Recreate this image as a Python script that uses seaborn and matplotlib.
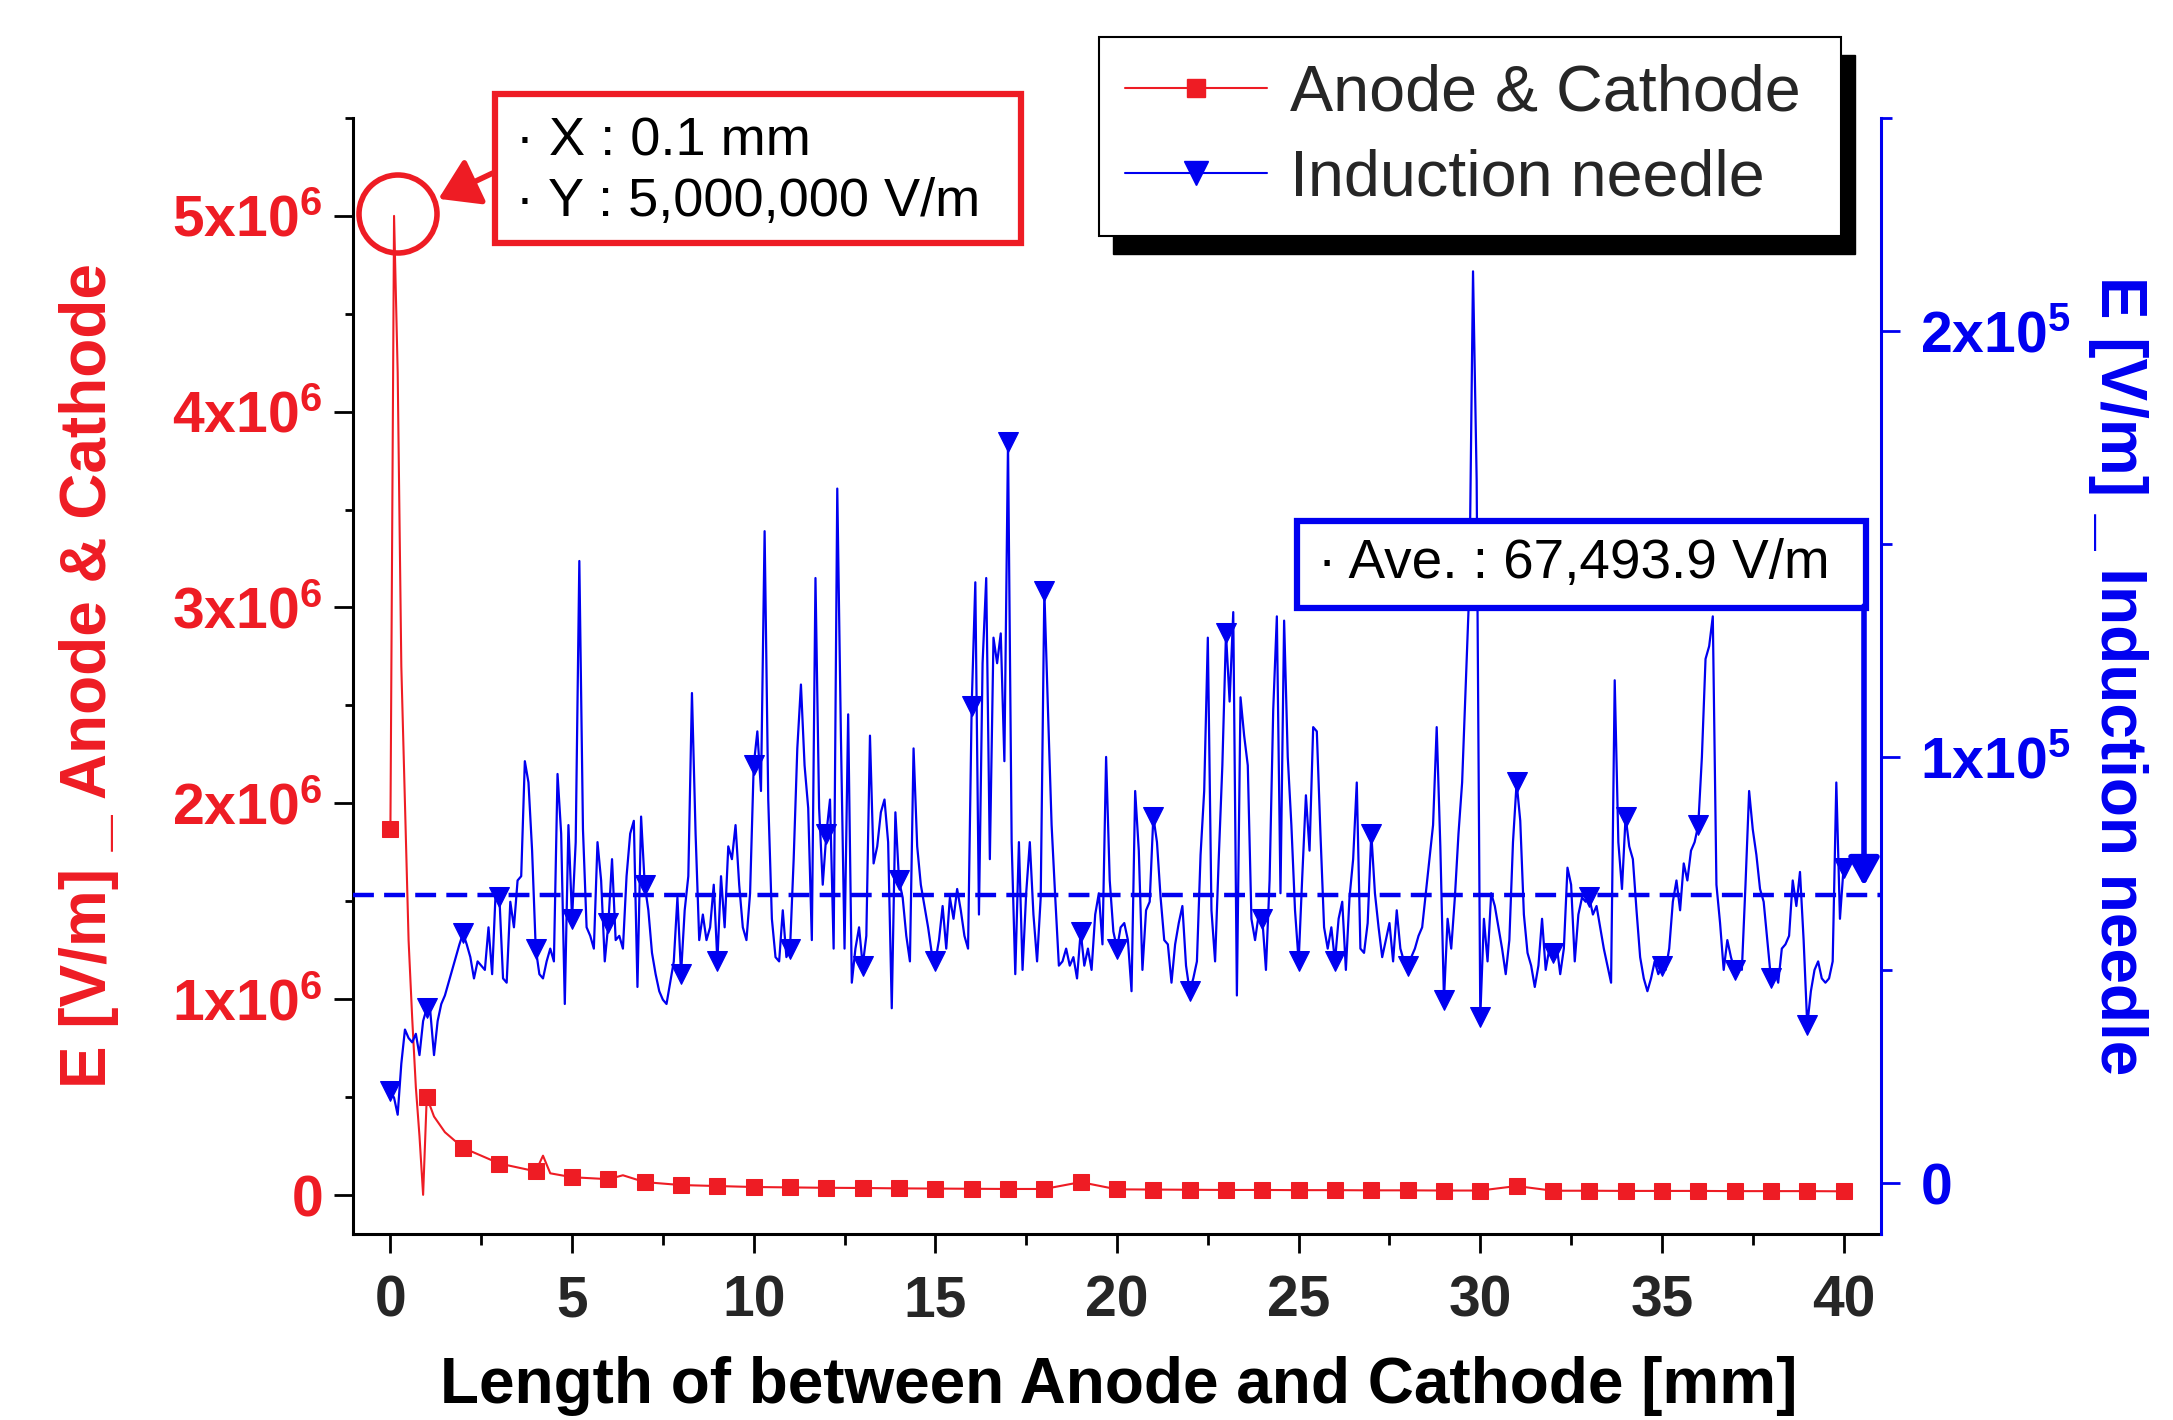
import numpy as np
import pandas as pd
import matplotlib
matplotlib.use("Agg")
import matplotlib.pyplot as plt
import seaborn as sns
from matplotlib.patches import Rectangle, Ellipse, FancyArrowPatch
from matplotlib.ticker import MultipleLocator, FixedLocator, FixedFormatter
from matplotlib.lines import Line2D

# ---- data ----
# Anode & Cathode field [V/m] (left axis)
red_x = [0.0, 0.1, 0.2, 0.3, 0.4, 0.5, 0.6, 0.7, 0.8, 0.9, 1.0, 1.2, 1.5,
         2, 3, 4, 4.2, 4.4, 5, 6, 6.4, 7, 8, 9, 10, 11, 12, 13, 14, 15, 16,
         17, 18, 19, 20, 21, 22, 23, 24, 25, 26, 27, 28, 29, 30, 31, 32, 33,
         34, 35, 36, 37, 38, 39, 40]
red_y = [1.87e6, 5.0e6, 4.2e6, 2.7e6, 2.0e6, 1.3e6, 0.9e6, 0.55e6, 0.3e6, 0.0, 0.5e6, 0.40e6, 0.32e6,
         0.24e6, 0.16e6, 0.12e6, 0.20e6, 0.11e6, 0.09e6, 0.08e6, 0.10e6, 0.065e6, 0.05e6, 0.045e6,
         0.04e6, 0.038e6, 0.036e6, 0.035e6, 0.033e6, 0.032e6, 0.031e6, 0.030e6, 0.030e6, 0.065e6,
         0.028e6, 0.027e6, 0.026e6, 0.025e6, 0.025e6, 0.024e6, 0.024e6, 0.023e6, 0.023e6, 0.022e6,
         0.022e6, 0.045e6, 0.021e6, 0.021e6, 0.020e6, 0.020e6, 0.020e6, 0.019e6, 0.019e6, 0.019e6,
         0.018e6]

# Induction needle field [x1e5 V/m] (right axis), sampled every 0.1 mm, one row per mm
blue_rows = [
    [0.215, 0.20, 0.16, 0.28, 0.36, 0.34, 0.33, 0.35, 0.30, 0.38],
    [0.41, 0.40, 0.30, 0.38, 0.42, 0.44, 0.47, 0.50, 0.53, 0.56],
    [0.586, 0.56, 0.53, 0.48, 0.52, 0.51, 0.50, 0.60, 0.49, 0.69],
    [0.67, 0.48, 0.47, 0.66, 0.60, 0.71, 0.72, 0.99, 0.94, 0.78],
    [0.55, 0.49, 0.48, 0.52, 0.55, 0.52, 0.96, 0.82, 0.42, 0.84],
    [0.62, 0.80, 1.46, 0.83, 0.60, 0.58, 0.55, 0.80, 0.71, 0.52],
    [0.61, 0.76, 0.57, 0.58, 0.55, 0.72, 0.82, 0.85, 0.46, 0.86],
    [0.70, 0.64, 0.54, 0.49, 0.45, 0.43, 0.42, 0.47, 0.52, 0.67],
    [0.49, 0.64, 0.72, 1.15, 0.82, 0.57, 0.63, 0.57, 0.60, 0.70],
    [0.52, 0.72, 0.60, 0.79, 0.76, 0.84, 0.70, 0.60, 0.57, 0.68],
    [0.98, 1.06, 0.92, 1.53, 0.90, 0.62, 0.53, 0.52, 0.64, 0.53],
    [0.55, 0.76, 1.02, 1.17, 0.98, 0.88, 0.57, 1.42, 0.88, 0.70],
    [0.82, 0.90, 0.55, 1.63, 1.05, 0.55, 1.10, 0.47, 0.55, 0.60],
    [0.51, 0.58, 1.05, 0.75, 0.79, 0.87, 0.90, 0.80, 0.41, 0.87],
    [0.71, 0.67, 0.58, 0.52, 1.02, 0.79, 0.70, 0.65, 0.60, 0.54],
    [0.52, 0.57, 0.65, 0.55, 0.67, 0.62, 0.69, 0.64, 0.58, 0.55],
    [1.12, 1.41, 0.63, 1.22, 1.42, 0.76, 1.28, 1.22, 1.29, 0.99],
    [1.74, 0.80, 0.49, 0.80, 0.50, 0.68, 0.80, 0.63, 0.52, 0.67],
    [1.39, 1.11, 0.84, 0.67, 0.51, 0.52, 0.55, 0.51, 0.53, 0.48],
    [0.59, 0.51, 0.55, 0.50, 0.63, 0.68, 0.56, 1.00, 0.71, 0.59],
    [0.55, 0.60, 0.61, 0.57, 0.45, 0.92, 0.78, 0.50, 0.64, 0.66],
    [0.86, 0.80, 0.67, 0.57, 0.56, 0.47, 0.56, 0.61, 0.65, 0.51],
    [0.45, 0.48, 0.52, 0.77, 0.92, 1.28, 0.64, 0.52, 0.76, 0.98],
    [1.29, 1.13, 1.34, 0.44, 1.14, 1.05, 0.98, 0.62, 0.57, 0.63],
    [0.62, 0.50, 0.71, 1.11, 1.33, 0.68, 1.32, 1.00, 0.84, 0.64],
    [0.52, 0.72, 0.91, 0.78, 1.07, 1.06, 0.82, 0.60, 0.55, 0.60],
    [0.52, 0.62, 0.66, 0.50, 0.67, 0.76, 0.94, 0.55, 0.54, 0.61],
    [0.82, 0.68, 0.60, 0.53, 0.57, 0.61, 0.52, 0.64, 0.55, 0.52],
    [0.51, 0.53, 0.55, 0.58, 0.60, 0.68, 0.76, 0.84, 1.07, 0.79],
    [0.43, 0.62, 0.55, 0.67, 0.82, 0.94, 1.17, 1.40, 2.14, 1.65],
    [0.39, 0.62, 0.52, 0.68, 0.65, 0.60, 0.55, 0.49, 0.57, 0.80],
    [0.94, 0.85, 0.63, 0.54, 0.51, 0.46, 0.51, 0.62, 0.50, 0.55],
    [0.54, 0.56, 0.49, 0.55, 0.74, 0.70, 0.52, 0.63, 0.67, 0.66],
    [0.67, 0.63, 0.65, 0.60, 0.55, 0.51, 0.47, 1.18, 0.80, 0.69],
    [0.86, 0.79, 0.76, 0.64, 0.53, 0.48, 0.45, 0.48, 0.52, 0.49],
    [0.51, 0.50, 0.55, 0.66, 0.71, 0.64, 0.75, 0.71, 0.78, 0.80],
    [0.84, 1.00, 1.23, 1.26, 1.33, 0.70, 0.61, 0.50, 0.57, 0.53],
    [0.50, 0.52, 0.50, 0.70, 0.92, 0.83, 0.77, 0.69, 0.66, 0.57],
    [0.48, 0.50, 0.47, 0.55, 0.56, 0.58, 0.71, 0.65, 0.73, 0.57],
    [0.37, 0.45, 0.50, 0.52, 0.48, 0.47, 0.48, 0.52, 0.94, 0.62],
    [0.74],
]
blue_avg = 67493.9

left_ticks = [0, 1e6, 2e6, 3e6, 4e6, 5e6]
left_labels = [r"$\mathbf{0}$", r"$\mathbf{1x10^{6}}$", r"$\mathbf{2x10^{6}}$",
               r"$\mathbf{3x10^{6}}$", r"$\mathbf{4x10^{6}}$", r"$\mathbf{5x10^{6}}$"]
right_ticks = [0, 1e5, 2e5]
right_labels = [r"$\mathbf{0}$", r"$\mathbf{1x10^{5}}$", r"$\mathbf{2x10^{5}}$"]

# ---- style ----
sns.set_theme(style="white")
plt.rcParams.update({
    "font.family": ["Liberation Sans", "DejaVu Sans"],
    "mathtext.fontset": "custom",
    "mathtext.rm": "Liberation Sans:bold",
    "mathtext.bf": "Liberation Sans:bold",
    "mathtext.it": "Liberation Sans:bold",
})
RED = "#ee1c24"
BLUE = "#0000f0"
W, H = 2173, 1420


def fx(px):
    return px / W


def fy(py):
    return 1 - py / H


blue_y = np.concatenate([np.array(r) for r in blue_rows]) * 1e5
blue_x = np.linspace(0, 40, len(blue_y))
red_df = pd.DataFrame({"x": red_x, "y": red_y})
blue_df = pd.DataFrame({"x": blue_x, "y": blue_y})
red_marks = [i for i, v in enumerate(red_x) if float(v).is_integer()]

fig = plt.figure(figsize=(W / 100, H / 100), dpi=100)
ax = fig.add_axes([fx(353), fy(1234), (1881 - 353) / W, (1234 - 118) / H])
ax2 = ax.twinx()

sns.lineplot(data=red_df, x="x", y="y", ax=ax, estimator=None, sort=False,
             color=RED, lw=1.5, marker="s", markersize=12, markevery=red_marks,
             markeredgecolor=RED, zorder=3)
sns.lineplot(data=blue_df, x="x", y="y", ax=ax2, estimator=None, sort=False,
             color=BLUE, lw=1.6, marker="v", markersize=15, markevery=10,
             markeredgecolor=BLUE, zorder=3)
ax2.axhline(blue_avg, color=BLUE, lw=3.2, dashes=(4.7, 2.3), zorder=4)

ax.set_xlim(-1.03, 41.03)
ax.set_ylim(-0.2e6, 5.5e6)
ax2.set_ylim(-0.12e5, 2.5e5)

ax.xaxis.set_major_locator(MultipleLocator(5))
ax.xaxis.set_minor_locator(MultipleLocator(2.5))
ax.yaxis.set_major_locator(FixedLocator(left_ticks))
ax.yaxis.set_major_formatter(FixedFormatter(left_labels))
ax.yaxis.set_minor_locator(MultipleLocator(0.5e6))
ax2.yaxis.set_major_locator(FixedLocator(right_ticks))
ax2.yaxis.set_major_formatter(FixedFormatter(right_labels))
ax2.yaxis.set_minor_locator(MultipleLocator(0.5e5))

for s in ["top", "right"]:
    ax.spines[s].set_visible(False)
for s in ["top", "left", "bottom"]:
    ax2.spines[s].set_visible(False)
ax.spines["left"].set_color("black")
ax.spines["bottom"].set_color("black")
ax.spines["left"].set_linewidth(2.2)
ax.spines["bottom"].set_linewidth(2.2)
ax2.spines["right"].set_color(BLUE)
ax2.spines["right"].set_linewidth(2.2)

ax.tick_params(axis="x", which="major", direction="out", length=14, width=2,
               color="black", labelsize=41, pad=15, bottom=True)
ax.tick_params(axis="x", which="minor", direction="out", length=8, width=2,
               color="black", bottom=True)
ax.tick_params(axis="y", which="major", direction="out", length=14, width=2,
               color="black", labelcolor=RED, labelsize=41, pad=8, left=True)
ax.tick_params(axis="y", which="minor", direction="out", length=6, width=2,
               color="black", left=True)
ax2.tick_params(axis="y", which="major", direction="out", length=14, width=2,
                color=BLUE, labelcolor=BLUE, labelsize=41, pad=14, right=True)
ax2.tick_params(axis="y", which="minor", direction="out", length=8, width=2,
                color=BLUE, right=True)
plt.setp(ax.get_xticklabels(), fontweight="bold")
ax.grid(False)
ax2.grid(False)

ax.set_xlabel("Length of between Anode and Cathode [mm]", fontsize=46,
              fontweight="bold", color="black", va="center")
ax.xaxis.set_label_coords(0.501, -0.136)
ax.set_ylabel("E [V/m] _ Anode & Cathode", fontsize=46, fontweight="bold",
              color=RED, va="center", ha="center")
ax.yaxis.set_label_coords(-0.173, 0.5)
ax2.set_ylabel("E [V/m] _ Induction needle", fontsize=46, fontweight="bold",
               color=BLUE, rotation=-90, va="center", ha="center")
ax2.yaxis.set_label_coords(1.155, 0.5)

# ---- legend with drop shadow ----
fig.add_artist(Rectangle((fx(1113), fy(254)), (1841 - 1099) / W, (236 - 37) / H,
                         transform=fig.transFigure, fc="black", ec="black", zorder=6))
fig.add_artist(Rectangle((fx(1099), fy(236)), (1841 - 1099) / W, (236 - 37) / H,
                         transform=fig.transFigure, fc="white", ec="black", lw=1.5, zorder=7))
handles = [Line2D([], [], color=RED, lw=1.5, marker="s", markersize=13),
           Line2D([], [], color=BLUE, lw=1.5, marker="v", markersize=17)]
leg = fig.legend(handles, ["Anode & Cathode", "Induction needle"], loc="center",
                 bbox_to_anchor=(fx(1463), fy(136)), frameon=False, fontsize=46.5,
                 handlelength=2.2, handletextpad=0.35, labelspacing=0.38,
                 borderaxespad=0, borderpad=0)
leg.set_zorder(8)

# ---- peak annotation (red) ----
fig.add_artist(Ellipse((fx(398), fy(214)), 78 / W, 78 / H, transform=fig.transFigure,
                       fill=False, ec=RED, lw=4, zorder=9))
fig.add_artist(Rectangle((fx(495), fy(243)), (1021 - 495) / W, (243 - 94) / H,
                         transform=fig.transFigure, fill=False, ec=RED, lw=4.5, zorder=9))
fig.text(fx(516), fy(141), "· X : 0.1 mm", fontsize=39, va="center", color="black", zorder=9)
fig.text(fx(516), fy(202), "· Y : 5,000,000 V/m", fontsize=39, va="center", color="black", zorder=9)
fig.add_artist(FancyArrowPatch((fx(495), fy(172)), (fx(436), fy(200)),
                               transform=fig.transFigure, arrowstyle="-|>,head_length=1.1,head_width=0.7",
                               mutation_scale=22, color=RED, lw=4, zorder=9))

# ---- average annotation (blue) ----
fig.add_artist(Rectangle((fx(1297), fy(608)), (1866 - 1297) / W, (608 - 521) / H,
                         transform=fig.transFigure, fc="white", ec=BLUE, lw=4.5, zorder=9))
fig.text(fx(1318), fy(564), "· Ave. : 67,493.9 V/m", fontsize=39.5, va="center", color="black", zorder=10)
fig.add_artist(FancyArrowPatch((fx(1864), fy(606)), (fx(1864), fy(886)),
                               transform=fig.transFigure, arrowstyle="-|>,head_length=1.0,head_width=0.55",
                               mutation_scale=17, color=BLUE, lw=4, zorder=9, shrinkA=0, shrinkB=0))

fig.savefig("out.png", dpi=100)
